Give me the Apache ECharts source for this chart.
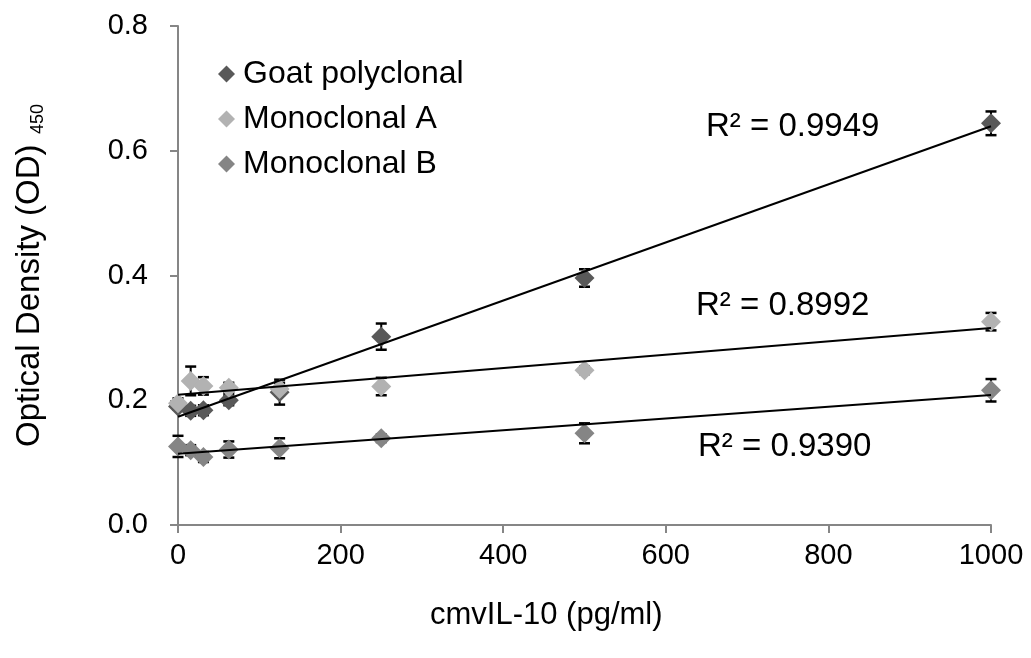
<!DOCTYPE html>
<html><head><meta charset="utf-8">
<script src="https://cdn.jsdelivr.net/npm/echarts@6/dist/echarts.min.js"></script>
<style>html,body{margin:0;padding:0;background:#fff}#c{width:1031px;height:658px}</style>
</head><body><div id="c"></div>
<script>
// ---- data ----
const xValues = [0, 15.625, 31.25, 62.5, 125, 250, 500, 1000];
const seriesNames = ['Goat polyclonal', 'Monoclonal A', 'Monoclonal B'];
const goatValues = [0.190, 0.183, 0.184, 0.200, 0.213, 0.302, 0.396, 0.644];
const goatErrors = [0.005, 0.008, 0.008, 0.008, 0.020, 0.021, 0.014, 0.019];
const monoAValues = [0.195, 0.231, 0.223, 0.220, 0.218, 0.222, 0.248, 0.326];
const monoAErrors = [0.008, 0.023, 0.014, 0.008, 0.010, 0.014, 0.006, 0.014];
const monoBValues = [0.126, 0.120, 0.109, 0.121, 0.123, 0.139, 0.147, 0.216];
const monoBErrors = [0.017, 0.008, 0.008, 0.013, 0.016, 0.006, 0.016, 0.018];
const r2Labels = ['R² = 0.9949', 'R² = 0.8992', 'R² = 0.9390'];
const xTicks = [0, 200, 400, 600, 800, 1000];
const yTicks = ['0.0', '0.2', '0.4', '0.6', '0.8'];
const xAxisTitle = 'cmvIL-10 (pg/ml)';
const yAxisTitle = 'Optical Density (OD)';
const yAxisSub = '450';

// ---- styles ----
const colors = ['#595959', '#b2b2b2', '#858585'];
const FONT = '"Liberation Sans", Arial, sans-serif';

function pairs(ys) { return xValues.map((x, i) => [x, ys[i]]); }
function errData(ys, es) { return xValues.map((x, i) => [x, ys[i] - es[i], ys[i] + es[i]]); }
function fit(ys) {
  const n = xValues.length;
  const mx = xValues.reduce((a, b) => a + b, 0) / n;
  const my = ys.reduce((a, b) => a + b, 0) / n;
  let sxy = 0, sxx = 0;
  for (let i = 0; i < n; i++) { sxy += (xValues[i] - mx) * (ys[i] - my); sxx += (xValues[i] - mx) ** 2; }
  const b = sxy / sxx, a = my - b * mx;
  const x0 = xValues[0], x1 = xValues[n - 1];
  return [[x0, a + b * x0], [x1, a + b * x1]];
}
const errRender = (params, api) => {
  const x = api.value(0);
  const lo = api.coord([x, api.value(1)]);
  const hi = api.coord([x, api.value(2)]);
  const w = 5.5;
  const style = { stroke: '#000', lineWidth: 2 };
  return { type: 'group', children: [
    { type: 'line', shape: { x1: lo[0], y1: lo[1], x2: hi[0], y2: hi[1] }, style },
    { type: 'line', shape: { x1: lo[0] - w, y1: lo[1], x2: lo[0] + w, y2: lo[1] }, style: { stroke: '#000', lineWidth: 2.5 } },
    { type: 'line', shape: { x1: hi[0] - w, y1: hi[1], x2: hi[0] + w, y2: hi[1] }, style: { stroke: '#000', lineWidth: 2.5 } }
  ] };
};

const valueSets = [goatValues, monoAValues, monoBValues];
const errSets = [goatErrors, monoAErrors, monoBErrors];

const series = [];
valueSets.forEach((ys, k) => {
  series.push({ type: 'custom', name: seriesNames[k] + ' err', renderItem: errRender,
    data: errData(ys, errSets[k]), z: 1, silent: true, encode: { x: 0, y: [1, 2] } });
});
valueSets.forEach((ys, k) => {
  series.push({ type: 'scatter', name: seriesNames[k], data: pairs(ys), symbol: 'diamond',
    symbolSize: 20, itemStyle: { color: colors[k], opacity: 1 }, z: 2 + k * 0.1 });
});
valueSets.forEach((ys, k) => {
  series.push({ type: 'line', name: seriesNames[k] + ' trend', data: fit(ys), symbol: 'none',
    lineStyle: { color: '#000', width: 2 }, z: 5, silent: true });
});

const axisLineStyle = { color: '#868686', width: 2 };
const chart = echarts.init(document.getElementById('c'));
chart.setOption({
  animation: false,
  backgroundColor: '#fff',
  color: colors,
  grid: { left: 178, right: 40, top: 26, bottom: 133, containLabel: false },
  xAxis: { type: 'value', min: 0, max: 1000, interval: 200,
    axisLine: { show: true, lineStyle: axisLineStyle },
    axisTick: { show: true, length: 8, lineStyle: axisLineStyle },
    splitLine: { show: false },
    axisLabel: { color: '#000', fontSize: 29, fontFamily: FONT, margin: 16,
      formatter: v => (xTicks.includes(v) ? String(v) : '') } },
  yAxis: { type: 'value', min: 0, max: 0.8, interval: 0.2,
    axisLine: { show: true, lineStyle: axisLineStyle },
    axisTick: { show: true, length: 8, lineStyle: axisLineStyle },
    splitLine: { show: false },
    axisLabel: { color: '#000', fontSize: 29, fontFamily: FONT, margin: 30,
      formatter: v => yTicks[Math.round(v / 0.2)] } },
  legend: { data: seriesNames.map((n, k) => ({ name: n, icon: 'diamond', itemStyle: { color: colors[k] } })),
    orient: 'vertical', left: 213, top: 53, itemWidth: 17, itemHeight: 17, itemGap: 13,
    textStyle: { color: '#000', fontSize: 32, fontFamily: FONT, padding: [0, 0, 0, 3] } },
  graphic: [
    { type: 'text', left: 430, top: 600, style: { text: xAxisTitle, fontSize: 31, fontFamily: FONT, fill: '#000' } },
    { type: 'text', x: 13, y: 447, rotation: Math.PI / 2, style: { text: yAxisTitle, fontSize: 33, fontFamily: FONT, fill: '#000', textAlign: 'left', textVerticalAlign: 'top' } },
    { type: 'text', x: 29, y: 134, rotation: Math.PI / 2, style: { text: yAxisSub, fontSize: 18, fontFamily: FONT, fill: '#000', textAlign: 'left', textVerticalAlign: 'top' } },
    { type: 'text', left: 706, top: 110, style: { text: r2Labels[0], fontSize: 33, fontFamily: FONT, fill: '#000' } },
    { type: 'text', left: 696, top: 289, style: { text: r2Labels[1], fontSize: 33, fontFamily: FONT, fill: '#000' } },
    { type: 'text', left: 698, top: 430, style: { text: r2Labels[2], fontSize: 33, fontFamily: FONT, fill: '#000' } }
  ],
  series
});
</script></body></html>
